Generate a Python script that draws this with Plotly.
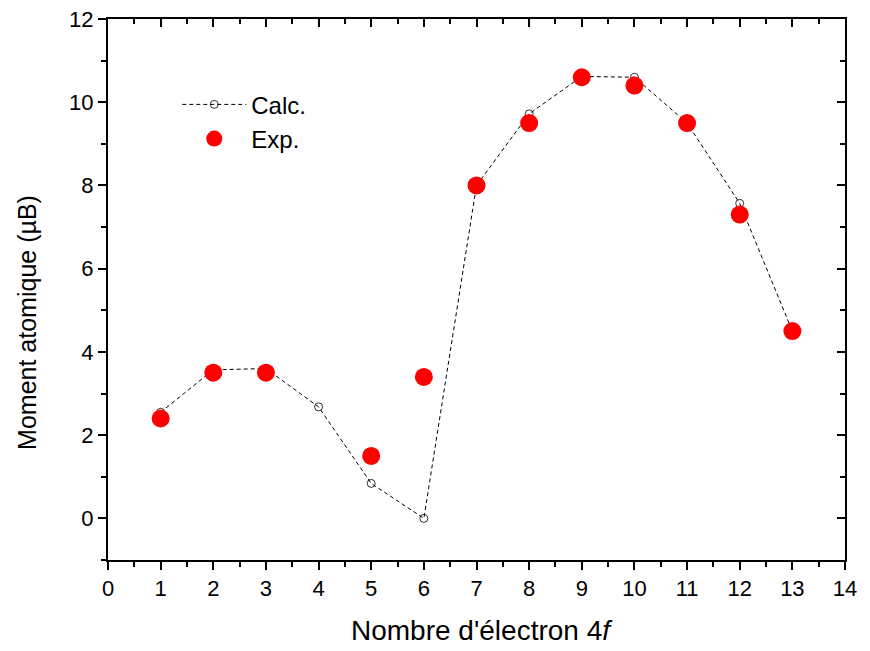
import plotly.graph_objects as go

n_calc = [1, 2, 3, 4, 5, 6, 7, 8, 9, 10, 11, 12, 13]
calc = [2.55, 3.57, 3.6, 2.68, 0.84, 0.0, 8.0, 9.72, 10.62, 10.6, 9.5, 7.57, 4.5]
n_exp = [1, 2, 3, 5, 6, 7, 8, 9, 10, 11, 12, 13]
exp = [2.4, 3.5, 3.5, 1.5, 3.4, 8.0, 9.5, 10.6, 10.4, 9.5, 7.3, 4.5]

FONT = "Liberation Sans, Arial, sans-serif"

fig = go.Figure()
fig.add_trace(go.Scatter(
    x=n_calc, y=calc, name="Calc.", mode="lines+markers",
    line=dict(color="black", width=1, dash="4px,3px"),
    marker=dict(symbol="circle-open", size=8, color="black", line=dict(width=0.8)),
))
fig.add_trace(go.Scatter(
    x=n_exp, y=exp, name="Exp.", mode="markers",
    marker=dict(symbol="circle", size=18, color="#ff0000"),
))

axis_common = dict(showgrid=False, zeroline=False, showline=True, linecolor="black",
                   linewidth=2, tickcolor="black", tickwidth=2, automargin=False,
                   ticklabeloverflow="allow",
                   tickfont=dict(family=FONT, size=22, color="black"))

fig.update_layout(
    width=870, height=651,
    margin=dict(l=100, r=33, t=11, b=99),
    plot_bgcolor="white", paper_bgcolor="white",
    font=dict(family=FONT, color="black"),
    showlegend=True,
    legend=dict(x=0.094, y=0.883, xanchor="left", yanchor="top",
                bgcolor="rgba(0,0,0,0)", font=dict(family=FONT, size=24),
                itemwidth=64, tracegroupgap=0),
    xaxis=dict(range=[0, 14], tickmode="linear", tick0=0, dtick=1, ticks="outside", ticklen=8,
               minor=dict(ticks="outside", ticklen=5, dtick=0.5, tickcolor="black", tickwidth=2),
               **axis_common),
    yaxis=dict(range=[-1, 12], tickmode="linear", tick0=0, dtick=2, ticks="outside", ticklen=8,
               minor=dict(ticks="outside", ticklen=5, dtick=1, tickcolor="black", tickwidth=2),
               **axis_common),
    xaxis2=dict(range=[0, 14], overlaying="x", side="top", tickmode="linear", tick0=0, dtick=1,
                ticks="inside", ticklen=8, showticklabels=False,
                minor=dict(ticks="inside", ticklen=5, dtick=0.5, tickcolor="black", tickwidth=2),
                **axis_common),
    yaxis2=dict(range=[-1, 12], overlaying="y", side="right", tickmode="linear", tick0=0, dtick=2,
                ticks="inside", ticklen=8, showticklabels=False,
                minor=dict(ticks="inside", ticklen=5, dtick=1, tickcolor="black", tickwidth=2),
                **axis_common),
    annotations=[
        dict(text="Nombre d'électron 4<i>f</i>", xref="paper", yref="paper", x=0.507, y=-0.131,
             xanchor="center", yanchor="middle", showarrow=False, font=dict(family=FONT, size=28)),
        dict(text="Moment atomique (µB)", xref="paper", yref="paper", x=-0.11, y=0.44,
             xanchor="center", yanchor="middle", textangle=-90, showarrow=False,
             font=dict(family=FONT, size=25)),
    ],
)
# invisible trace to activate the mirror axes
fig.add_trace(go.Scatter(x=[None], y=[None], xaxis="x2", yaxis="y2", showlegend=False, hoverinfo="skip"))

fig.write_html("out.html")
